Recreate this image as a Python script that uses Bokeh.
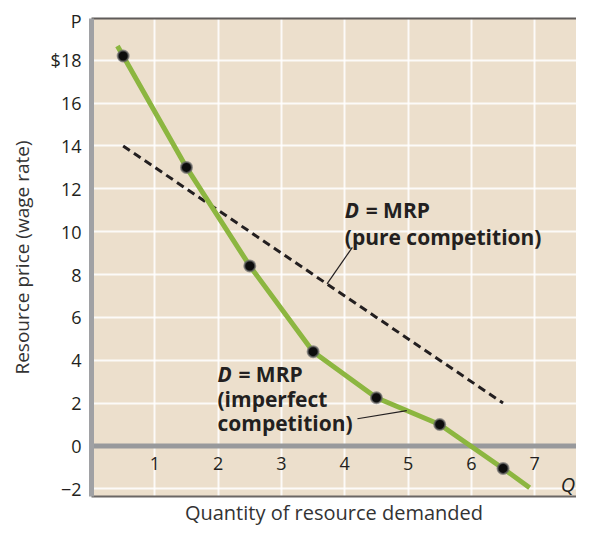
from bokeh.plotting import figure
from bokeh.models import Range1d, LinearAxis, FixedTicker, Span, Label
from bokeh.core.properties import value
from bokeh.embed import file_html
from bokeh.resources import INLINE

# ---- data ----
units_mid = [0.5, 1.5, 2.5, 3.5, 4.5, 5.5, 6.5]
mrp_imperfect = [18.20, 13.00, 8.40, 4.40, 2.25, 1.00, -1.05]
mrp_pure = [14, 12, 10, 8, 6, 4, 2]
curve_x = [0.41] + units_mid + [6.92]
curve_y = [18.67] + mrp_imperfect + [-1.95]

x_tick_values = [1, 2, 3, 4, 5, 6, 7]
x_tick_labels = ["1", "2", "3", "4", "5", "6", "7"]
y_tick_values = [-2, 0, 2, 4, 6, 8, 10, 12, 14, 16, 18]
y_tick_overrides = {18: "$18", -2: "\u22122", 19.85: "P"}

FONT = "Open Sans"
TXT = "#231f20"
TAN = "#ecdfcc"
GREEN = "#8cb640"

p = figure(width=576, height=528,
           x_range=Range1d(0, 7.66), y_range=Range1d(-2.36, 19.95),
           output_backend="svg", toolbar_location=None,
           min_border_left=91, min_border_right=0, min_border_top=18, min_border_bottom=28,
           background_fill_color=TAN, border_fill_color="white", outline_line_color=None)

# grids
p.xgrid.ticker = FixedTicker(ticks=x_tick_values)
p.ygrid.ticker = FixedTicker(ticks=[v for v in y_tick_values if v != 0])
p.grid.grid_line_color = "white"
p.grid.grid_line_alpha = 0.85
p.grid.grid_line_width = 2

# y axis
ya = p.yaxis[0]
ya.ticker = FixedTicker(ticks=y_tick_values + [19.85])
ya.major_label_overrides = y_tick_overrides
ya.axis_line_color = "#a0a1a4"
ya.axis_line_width = 5
ya.major_tick_line_color = None
ya.minor_tick_line_color = None
ya.major_tick_out = 0
ya.major_tick_in = 0
ya.major_label_standoff = 10
ya.major_label_text_font = FONT
ya.major_label_text_font_size = "18px"
ya.major_label_text_color = TXT
ya.axis_label = "Resource price (wage rate)"
ya.axis_label_text_font = FONT
ya.axis_label_text_font_size = "19px"
ya.axis_label_text_font_style = "normal"
ya.axis_label_text_color = "#333333"
ya.axis_label_standoff = 13

# x axis (bottom border + label)
xa = p.xaxis[0]
xa.ticker = FixedTicker(ticks=[])
xa.axis_line_color = "#6b6765"
xa.axis_line_width = 2
xa.major_tick_line_color = None
xa.minor_tick_line_color = None
xa.axis_label = "Quantity of resource demanded"
xa.axis_label_text_font = FONT
xa.axis_label_text_font_size = "20px"
xa.axis_label_text_font_style = "normal"
xa.axis_label_text_color = "#333333"
xa.axis_label_standoff = 2

# top border
top = LinearAxis(ticker=FixedTicker(ticks=[]), axis_line_color="#5f5b59", axis_line_width=2,
                 major_tick_line_color=None, minor_tick_line_color=None,
                 major_label_text_font_size="0px")
p.add_layout(top, "above")

# zero line
zero = Span(location=0, dimension="width", line_color="#98999c", line_width=5, level="underlay")
p.add_layout(zero)

# x tick labels inside plot
p.text(x=x_tick_values, y=[-0.82] * len(x_tick_values), text=x_tick_labels,
       text_align="center", text_baseline="middle", text_font=value(FONT),
       text_font_size="18px", text_color=TXT)

# pure competition MRP (dashed)
p.line(units_mid, mrp_pure, line_color=TXT, line_width=3, line_dash="8 5")

# imperfect competition MRP
p.line(curve_x, curve_y, line_color=GREEN, line_width=5)
p.scatter(units_mid, mrp_imperfect, size=11, fill_color="#0d0d0d",
          line_color="#6b6b6b", line_alpha=0.7, line_width=2)

# leader lines
p.line([3.72, 4.12], [7.56, 9.27], line_color=TXT, line_width=1.2)
p.line([4.20, 4.98], [1.27, 1.65], line_color=TXT, line_width=1.2)

# annotations
def lab(x, y, t, style="bold", size="21px", align="left", color=TXT):
    p.add_layout(Label(x=x, y=y, text=t, text_font=FONT, text_font_size=size,
                       text_font_style=style, text_color=color, text_align=align,
                       text_baseline="alphabetic"))

lab(4.00, 11.0, "D", "bold italic")
lab(4.33, 11.0, "= MRP")
lab(4.00, 9.73, "(pure competition)")

lab(1.99, 3.36, "D", "bold italic")
lab(2.32, 3.36, "= MRP")
lab(1.99, 2.18, "(imperfect")
lab(1.99, 1.05, "competition)")

# quantity axis letter
lab(7.64, -1.82, "Q", "italic", "20px", "right")

open("out.html", "w").write(file_html(p, INLINE))
